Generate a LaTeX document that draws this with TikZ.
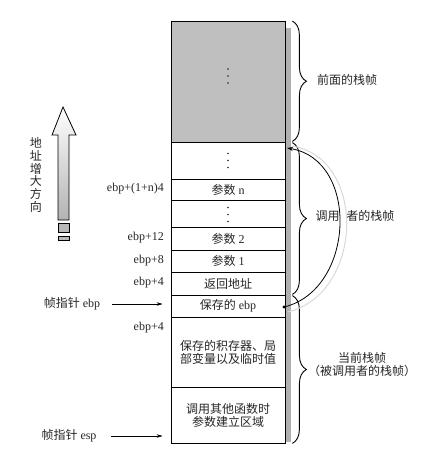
\documentclass[tikz,border=0pt]{standalone}
\usepackage{fontspec}
\setmainfont{Liberation Serif}
\newfontfamily\cjk{Noto Sans CJK SC}
\usetikzlibrary{arrows.meta,decorations.pathreplacing}

\begin{document}
\begin{tikzpicture}[x=1pt,y=-1pt,
  every node/.style={font=\fontsize{12}{13}\selectfont, text=black!85},
  cjkf/.style={font=\cjk\fontsize{12}{13}\selectfont},
  cell/.style={draw, line width=0.8pt, minimum width=114pt, inner sep=0pt, fill=white, align=center},
  lbl/.style={anchor=east, inner sep=0pt},
  ptr/.style={-{Stealth[length=6pt,width=3.5pt]}, line width=0.5pt},
  brc/.style={decorate, decoration={brace, amplitude=14pt}, line width=0.9pt},
  vdot/.style={fill=black!85},
]
\useasboundingbox (0,0) rectangle (444,464);

% shadow strip at the right of the stack
\fill[gray!62] (285,28) rectangle (291,442);

% stack cells
\node[cell, minimum height=121pt, fill=gray!50] (prev) at (228,81.5) {};
\node[cell, minimum height=37pt] (dots1) at (228,160.5) {};
\node[cell, minimum height=21pt] (pn) at (228,189.5) {{\cjk 参数} n};
\node[cell, minimum height=27pt] (dots2) at (228,213.5) {};
\node[cell, minimum height=23pt] (p2) at (228,238.5) {{\cjk 参数} 2};
\node[cell, minimum height=22pt] (p1) at (228,261) {{\cjk 参数} 1};
\node[cell, minimum height=23pt, cjkf] (ret) at (228,283.5) {返回地址};
\node[cell, minimum height=22pt] (sebp) at (228,306) {{\cjk 保存的} ebp};
\node[cell, minimum height=70pt, cjkf] (regs) at (228,352) {保存的积存器、局\\部变量以及临时值};
\node[cell, minimum height=56pt, cjkf] (args) at (228,415) {调用其他函数时\\参数建立区域};

% vertical ellipses
\foreach \c/\dy in {prev/-5.5, dots1/0, dots2/1} {
  \foreach \k in {-7,0,7} {
    \fill[vdot] ([yshift=-\dy pt - \k pt]\c.center) circle (0.95pt);
  }
}

% offset labels
\node[lbl] (lpn) at (164,189) {ebp+(1+n)4};
\node[lbl] (lp2) at (164,238) {ebp+12};
\node[lbl] (lp1) at (164,260.5) {ebp+8};
\node[lbl] (lret) at (164,282.5) {ebp+4};
\node[lbl] (lregs) at (164,327.5) {ebp+4};

% frame pointers
\node (febp) at (72,304) {{\cjk 帧指针} ebp};
\node (fesp) at (69,436) {{\cjk 帧指针} esp};
\draw[ptr, shorten <=8pt, shorten >=8pt] (febp.east) -- (febp.east -| sebp.west);
\draw[ptr, shorten <=11pt, shorten >=8pt] (fesp.east) -- (fesp.east -| args.west);

% braces
\draw[brc] ([xshift=7pt,yshift=-0.5pt]prev.north east) -- ([xshift=7pt,yshift=1pt]prev.south east);
\draw[brc] ([xshift=7pt,yshift=-1pt]dots1.north east) -- ([xshift=7pt,yshift=1pt]ret.south east);
\draw[brc] ([xshift=7pt,yshift=-1pt]sebp.north east) -- ([xshift=7pt]args.south east);
\node[cjkf] (tprev) at (347,80) {前面的栈帧};
\node[cjkf] (tcaller) at (355,216) {调用\hspace{7pt}者的栈帧};
\node[cjkf, align=center] (tcur) at (362,365) {当前栈帧\\（被调用者的栈帧）};

% saved ebp link
\coordinate (cs) at (284,307);
\coordinate (ce) at (287,148);
\draw[gray!30, line width=1pt] (288,312) .. controls (364,293) and (367,158) .. (292,146);
\draw[-{Stealth[length=6pt,width=4pt]}, line width=0.8pt] (cs) .. controls (355,290) and (360,160) .. (ce);
\fill (cs) circle (1.7pt);

% address growth arrow
\draw[line width=0.8pt, top color=white, bottom color=gray!60]
  (63,107) -- (76,135) -- (69,135) -- (69,220) -- (58,220) -- (58,135) -- (52,135) -- cycle;
\draw[line width=0.8pt, fill=gray!55] (58,223) rectangle (69,232.5);
\draw[line width=0.8pt, fill=gray!55] (58,236) rectangle (69,240.5);
\node[font=\cjk\fontsize{12}{12.8}\selectfont, align=center, text=black!85] (dir) at (36,175) {地\\址\\增\\大\\方\\向};
\end{tikzpicture}
\end{document}
